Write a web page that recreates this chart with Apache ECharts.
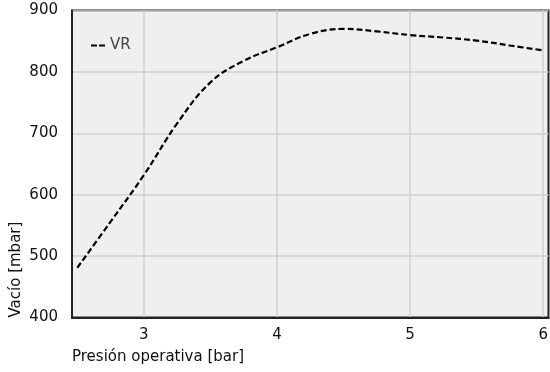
<!DOCTYPE html>
<html>
<head>
<meta charset="utf-8">
<script src="https://cdn.jsdelivr.net/npm/echarts@6/dist/echarts.min.js"></script>
<style>html,body{margin:0;padding:0;background:#fff}#c{width:550px;height:372px}</style>
</head>
<body>
<div id="c"></div>
<script>
const presion = [2.5, 2.75, 3.0, 3.25, 3.5, 3.75, 4.0, 4.25, 4.5, 4.75, 5.0, 5.25, 5.5, 5.75, 6.0];
const vacio = [481, 556, 632, 716, 783, 818, 840, 862, 870, 866, 860, 856, 851, 843, 835];
const xTicks = [3, 4, 5, 6];
const seriesName = 'VR';
const xName = 'Presión operativa [bar]';
const yName = 'Vacío [mbar]';

const font = 'DejaVu Sans';
const chart = echarts.init(document.getElementById('c'), null, {renderer: 'canvas'});
chart.setOption({
  animation: false,
  textStyle: {fontFamily: font},
  grid: {left: 72, top: 10.5, right: 1.5, bottom: 54.5, outerBoundsMode: 'none', containLabel: false, show: true, backgroundColor: '#efefef', borderColor: '#222', borderWidth: 2, z: 0},
  legend: {
    data: [seriesName], left: 86, top: 33, itemWidth: 14, itemHeight: 4, itemGap: 6,
    textStyle: {fontFamily: font, fontSize: 15, color: '#444'},
    icon: 'path://M0,0 H6 V2 H0 Z M8,0 H14 V2 H8 Z'
  },
  xAxis: {
    type: 'value', min: 2.46, max: 6.04,
    name: xName, nameLocation: 'start', nameGap: 0,
    nameTextStyle: {fontFamily: font, fontSize: 15, color: '#111', align: 'left', verticalAlign: 'top', padding: [32, 0, 0, 0]},
    axisLine: {show: true, lineStyle: {color: '#222', width: 2}},
    axisTick: {show: false, customValues: xTicks},
    axisLabel: {customValues: xTicks, fontFamily: font, fontSize: 15, color: '#111', margin: 10},
    splitLine: {show: true, lineStyle: {color: '#d0d0d0', width: 1.5}}
  },
  yAxis: {
    type: 'value', min: 400, max: 900, interval: 100,
    name: yName, nameLocation: 'start', nameGap: 0, nameRotate: 90,
    nameTextStyle: {fontFamily: font, fontSize: 15, color: '#111', align: 'left', verticalAlign: 'bottom', padding: [0, 0, 48, 0]},
    axisLine: {show: true, lineStyle: {color: '#222', width: 2}},
    axisTick: {show: false},
    axisLabel: {fontFamily: font, fontSize: 15, color: '#111', margin: 14},
    splitLine: {show: true, lineStyle: {color: '#d0d0d0', width: 1.5}}
  },
  series: [{
    name: seriesName, type: 'line', smooth: 0.4, showSymbol: false, symbol: 'none',
    data: presion.map((p, i) => [p, vacio[i]]),
    lineStyle: {color: '#000', width: 2.2, type: [6, 3]},
    itemStyle: {color: '#000'}
  }]
});
</script>
</body>
</html>
